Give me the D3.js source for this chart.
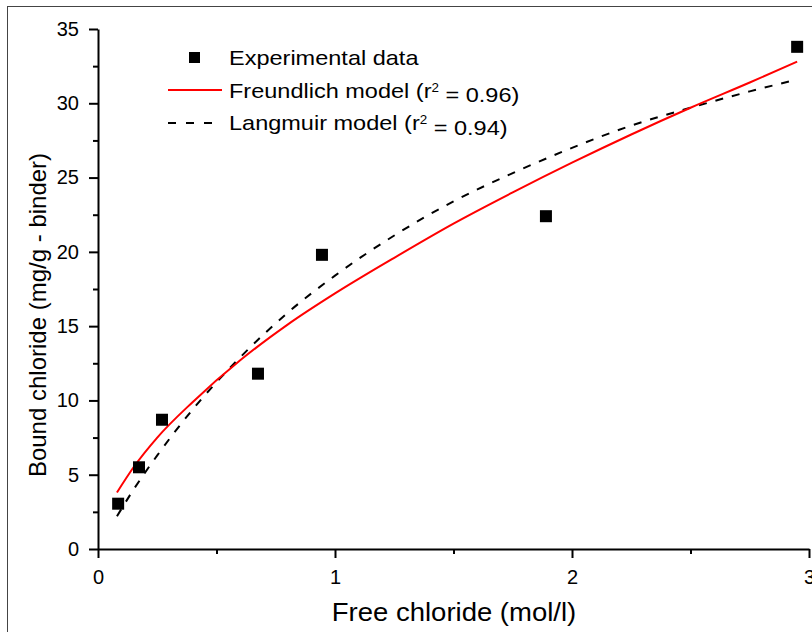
<!DOCTYPE html>
<html>
<head>
<meta charset="utf-8">
<script src="https://cdn.jsdelivr.net/npm/d3@7"></script>
<style>
  body { margin: 0; background: #fff; }
  text { font-family: "Liberation Sans", Arial, sans-serif; }
</style>
</head>
<body>
<div id="chart"></div>
<script>
// Bound vs free chloride

// experimental points
var freeCl = [0.085, 0.173, 0.27, 0.675, 0.945, 1.89, 2.95];
var boundCl = [3.05, 5.5, 8.7, 11.8, 19.8, 22.4, 33.8];

// model curves
var curveX = [0.08, 0.15, 0.25, 0.4, 0.6, 0.8, 1.0, 1.25, 1.5, 1.75, 2.0, 2.25, 2.5, 2.75, 2.95];
var freundlichY = [3.8, 5.5, 7.5, 9.9, 12.7, 15.1, 17.2, 19.6, 21.9, 24.0, 26.0, 27.9, 29.7, 31.4, 32.8];
var langmuirY = [2.2, 4.0, 6.3, 9.4, 12.9, 15.9, 18.4, 21.1, 23.4, 25.3, 27.0, 28.5, 29.7, 30.8, 31.6];

var legendLabels = ["Experimental data", "Freundlich model (r", "Langmuir model (r"];
var legendR2 = ["", "0.96", "0.94"];

var svgWidth = 812;
var svgHeight = 632;

var margin = { top: 29, right: 3, bottom: 83, left: 98 };
var height = svgHeight - margin.top - margin.bottom;

var svg = d3.select("#chart")
  .append("svg")
  .attr("width", svgWidth)
  .attr("height", svgHeight);

// outer frame
svg.append("rect")
  .attr("x", 7.5)
  .attr("y", 6.5)
  .attr("width", 820)
  .attr("height", 640)
  .attr("fill", "none")
  .attr("stroke", "#444")
  .attr("stroke-width", 1);

var chartGroup = svg.append("g")
  .attr("transform", `translate(${margin.left}, ${margin.top})`);

var xScale = d3.scaleLinear().domain([0, 3]).range([0, 711]);
var yScale = d3.scaleLinear().domain([0, 35]).range([height, 0]);

// minor ticks
chartGroup.append("g")
  .attr("transform", `translate(0, ${height})`)
  .call(d3.axisBottom(xScale).tickValues([0.5, 1.5, 2.5]).tickSize(5).tickFormat(""))
  .call(g => g.select(".domain").remove())
  .selectAll("line").attr("stroke-width", 2);

chartGroup.append("g")
  .call(d3.axisLeft(yScale).tickValues(d3.range(2.5, 35, 5)).tickSize(5).tickFormat(""))
  .call(g => g.select(".domain").remove())
  .selectAll("line").attr("stroke-width", 2);

// major axes
var xAxis = chartGroup.append("g")
  .attr("transform", `translate(0, ${height})`)
  .call(d3.axisBottom(xScale).tickValues([0, 1, 2, 3]).tickSize(9).tickPadding(12).tickSizeOuter(0).tickFormat(d3.format("d")));

var yAxis = chartGroup.append("g")
  .call(d3.axisLeft(yScale).tickValues(d3.range(0, 36, 5)).tickSize(9).tickPadding(10).tickSizeOuter(0));

[xAxis, yAxis].forEach(function(ax) {
  ax.select(".domain").attr("stroke-width", 2);
  ax.selectAll("line").attr("stroke-width", 2);
  ax.selectAll("text")
    .style("font-family", "Liberation Sans, Arial, sans-serif")
    .style("font-size", "20px")
    .attr("fill", "#000");
});

// curves
var line = d3.line()
  .x(d => xScale(d[0]))
  .y(d => yScale(d[1]))
  .curve(d3.curveMonotoneX);

chartGroup.append("path")
  .datum(curveX.map((x, i) => [x, langmuirY[i]]))
  .attr("d", line)
  .attr("fill", "none")
  .attr("stroke", "#000")
  .attr("stroke-width", 2)
  .attr("stroke-dasharray", "8,9");

chartGroup.append("path")
  .datum(curveX.map((x, i) => [x, freundlichY[i]]))
  .attr("d", line)
  .attr("fill", "none")
  .attr("stroke", "#ff0000")
  .attr("stroke-width", 2);

// experimental squares
chartGroup.selectAll("rect.pt")
  .data(freeCl)
  .enter()
  .append("rect")
  .attr("class", "pt")
  .attr("x", d => xScale(d) - 6)
  .attr("y", (d, i) => yScale(boundCl[i]) - 6)
  .attr("width", 12)
  .attr("height", 12)
  .attr("fill", "#000");

// legend
var legend = svg.append("g");
legend.append("rect")
  .attr("x", 189).attr("y", 52).attr("width", 11).attr("height", 11)
  .attr("fill", "#000");
legend.append("line")
  .attr("x1", 168).attr("x2", 222).attr("y1", 90).attr("y2", 90)
  .attr("stroke", "#ff0000").attr("stroke-width", 2);
legend.append("line")
  .attr("x1", 168).attr("x2", 214).attr("y1", 123).attr("y2", 123)
  .attr("stroke", "#000").attr("stroke-width", 2)
  .attr("stroke-dasharray", "8,10");

legendLabels.forEach(function(lab, i) {
  var t = legend.append("text")
    .attr("transform", `translate(229, ${65 + i * 32.5}) scale(1.12, 1)`)
    .style("font-size", "21px")
    .attr("fill", "#000")
    .text(lab);
  if (legendR2[i]) {
    t.append("tspan").attr("dy", "-0.5em").style("font-size", "12px").text("2");
    t.append("tspan").attr("dy", "0.5em").text(" = " + legendR2[i] + ")");
  }
});

// axis titles
svg.append("text")
  .attr("transform", "translate(454, 621) scale(1.1, 1)")
  .attr("text-anchor", "middle")
  .style("font-size", "25px")
  .text("Free chloride (mol/l)");

svg.append("text")
  .attr("transform", "translate(46, 315) rotate(-90)")
  .attr("text-anchor", "middle")
  .style("font-size", "24px")
  .text("Bound chloride (mg/g - binder)");
</script>
</body>
</html>
